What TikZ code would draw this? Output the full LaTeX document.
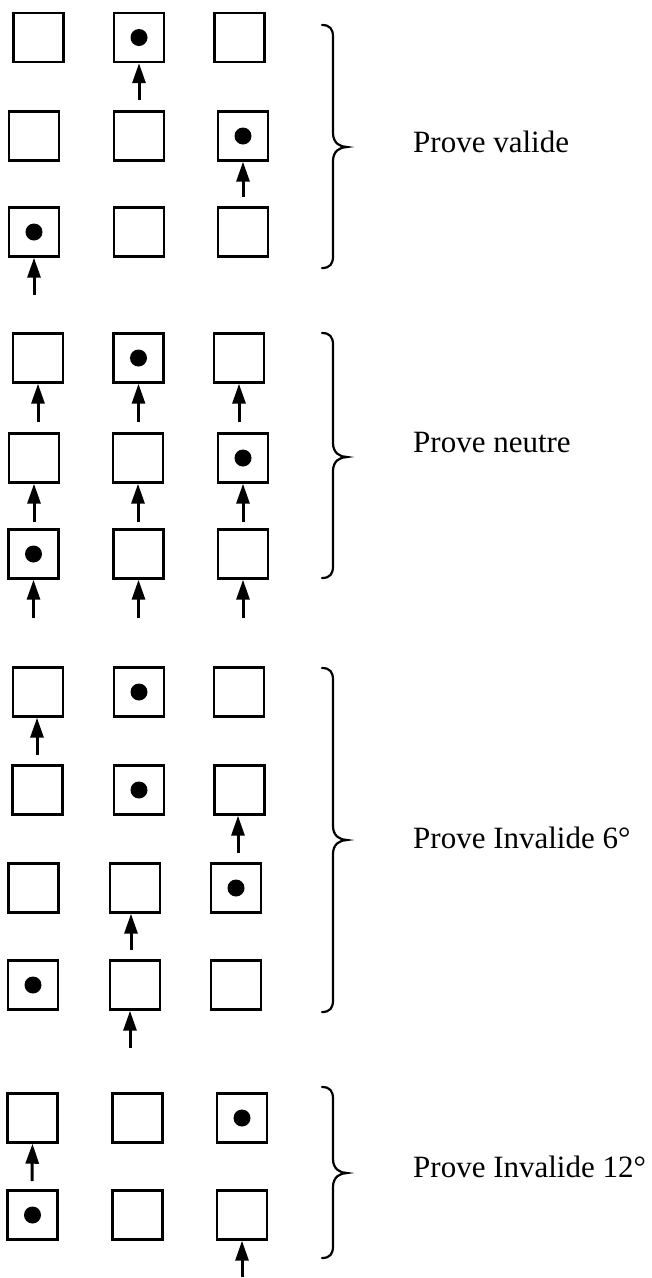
\documentclass[tikz,border=0pt]{standalone}
\usepackage{fontspec}
\setmainfont{Liberation Serif}
\usetikzlibrary{arrows.meta}

\begin{document}
\begin{tikzpicture}[x=1pt, y=-1pt,
  cell/.style={draw, line width=2.4pt, minimum width=50pt, minimum height=49pt, inner sep=0pt},
  dotmark/.style={circle, fill, minimum size=17pt, inner sep=0pt},
  pusharrow/.style={-{Triangle[length=20pt, width=13pt]}, line width=3pt},
  bracket/.style={line width=2.2pt, line cap=round},
  caption/.style={anchor=base west, inner sep=0pt, font=\fontsize{31}{37}\selectfont}]
\useasboundingbox (0,0) rectangle (652,1278);

% ---- group 1: three rows
\node[cell] (a11) at (38.5,37.5) {};
\node[cell] (a12) at (139,37.5) {};
\node[cell] (a13) at (239.5,37.5) {};
\node[cell] (a21) at (34,136) {};
\node[cell] (a22) at (139,136) {};
\node[cell] (a23) at (243,136) {};
\node[cell] (a31) at (34,232) {};
\node[cell] (a32) at (139,232) {};
\node[cell] (a33) at (243,232) {};
\node[dotmark] (da1) at (a12) {};
\node[dotmark] (da2) at (a23) {};
\node[dotmark] (da3) at (a31) {};
\coordinate (pa1) at (139,100);
\coordinate (pa2) at (243,197);
\coordinate (pa3) at (34,295);
\draw[pusharrow] (pa1) -- (a12.south);
\draw[pusharrow] (pa2) -- (a23.south);
\draw[pusharrow] (pa3) -- (a31.south);

% ---- group 2: three rows, every cell pushed
\node[cell] (b11) at (38,358) {};
\node[cell] (b12) at (138.5,358) {};
\node[cell] (b13) at (239,358) {};
\node[cell] (b21) at (34,458) {};
\node[cell] (b22) at (138,458) {};
\node[cell] (b23) at (243,458) {};
\node[cell] (b31) at (33.5,554) {};
\node[cell] (b32) at (138.5,554) {};
\node[cell] (b33) at (243,554) {};
\node[dotmark] (db1) at (b12) {};
\node[dotmark] (db2) at (b23) {};
\node[dotmark] (db3) at (b31) {};
\foreach \r in {1,2,3}{
  \foreach \c in {1,2,3}{
    \coordinate (pb\r\c) at ([yshift=-38pt]b\r\c.south);
    \draw[pusharrow] (pb\r\c) -- (b\r\c.south);
  }
}

% ---- group 3: four rows
\node[cell] (c11) at (38,692) {};
\node[cell] (c12) at (139,692) {};
\node[cell] (c13) at (239,692) {};
\node[cell] (c21) at (37.5,790) {};
\node[cell] (c22) at (139,790) {};
\node[cell] (c23) at (239.5,790) {};
\node[cell] (c31) at (33.5,888) {};
\node[cell] (c32) at (135,888) {};
\node[cell] (c33) at (236,888) {};
\node[cell] (c41) at (33,985) {};
\node[cell] (c42) at (135,985) {};
\node[cell] (c43) at (236,985) {};
\node[dotmark] (dc1) at (c12) {};
\node[dotmark] (dc2) at (c22) {};
\node[dotmark] (dc3) at (c33) {};
\node[dotmark] (dc4) at (c41) {};
\coordinate (pc1) at (37,755);
\coordinate (pc2) at (238,853);
\coordinate (pc3) at (131,950);
\coordinate (pc4) at (130,1048);
\draw[pusharrow] (pc1) -- (pc1 |- c11.south);
\draw[pusharrow] (pc2) -- (pc2 |- c23.south);
\draw[pusharrow] (pc3) -- (pc3 |- c32.south);
\draw[pusharrow] (pc4) -- (pc4 |- c42.south);

% ---- group 4: two rows
\node[cell] (e11) at (32.5,1118) {};
\node[cell] (e12) at (137.5,1118) {};
\node[cell] (e13) at (242,1118) {};
\node[cell] (e21) at (32.5,1215) {};
\node[cell] (e22) at (137.5,1215) {};
\node[cell] (e23) at (242,1215) {};
\node[dotmark] (de1) at (e13) {};
\node[dotmark] (de2) at (e21) {};
\coordinate (pe1) at (32,1181);
\coordinate (pe2) at (242,1277);
\draw[pusharrow] (pe1) -- (e11.south);
\draw[pusharrow] (pe2) -- (e23.south);

% ---- braces and captions: {top/tip/bottom/baseline/text}
\foreach \t/\m/\b/\l/\txt in {25/147/268/152/{Prove valide},
                                333/457/578/452/{Prove neutre},
                                668/840/1012/848/{Prove Invalide 6°},
                                1087/1173/1258/1177/{Prove Invalide 12°}}{
  \draw[bracket] (322,\t) .. controls (330,\t) and (333,\t+4) .. (333,\t+12)
    -- (333,\m-14) .. controls (333,\m-4) and (340,\m) .. (347,\m)
    .. controls (340,\m) and (333,\m+4) .. (333,\m+14)
    -- (333,\b-12) .. controls (333,\b-4) and (330,\b) .. (322,\b);
  \node[caption] at (413,\l) {\txt};
}
\end{tikzpicture}
\end{document}
